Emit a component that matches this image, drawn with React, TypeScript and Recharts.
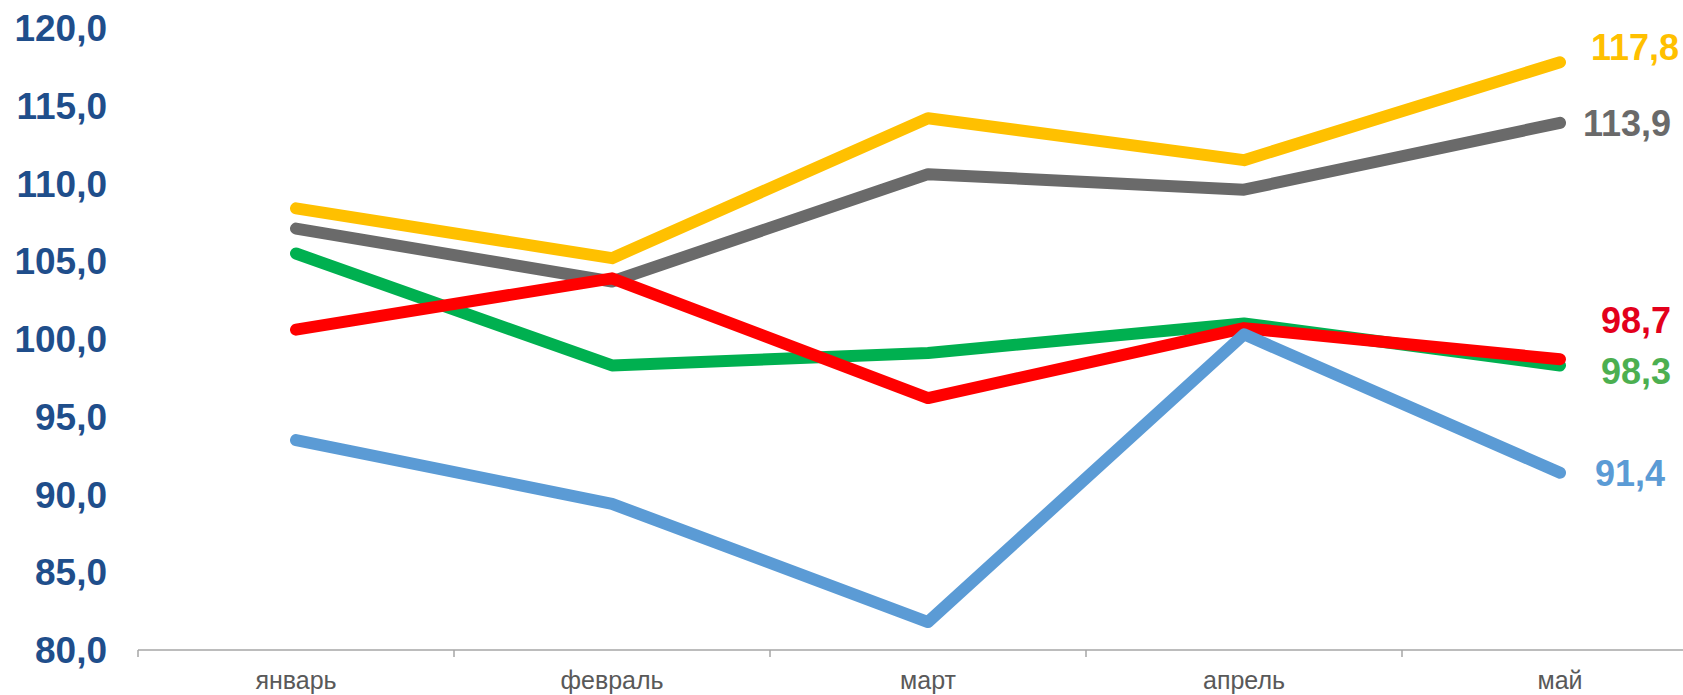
import React from "react";
import { LineChart, Line, XAxis, YAxis, LabelList } from "recharts";

const months = ["январь", "февраль", "март", "апрель", "май"];
const yellowValues = [108.4, 105.2, 114.2, 111.5, 117.8];
const grayValues = [107.1, 103.7, 110.6, 109.6, 113.9];
const greenValues = [105.5, 98.3, 99.1, 101.0, 98.3];
const redValues = [100.6, 103.9, 96.2, 100.7, 98.7];
const blueValues = [93.5, 89.4, 81.8, 100.3, 91.4];
const yTicks = [80, 85, 90, 95, 100, 105, 110, 115, 120];

const data = months.map((m, i) => ({
  month: m,
  yellow: yellowValues[i],
  gray: grayValues[i],
  green: greenValues[i],
  red: redValues[i],
  blue: blueValues[i],
}));

const FONT = '"Liberation Sans", Arial, sans-serif';
const BAND = 316;
const fmt = (v: number) => v.toFixed(1).replace(".", ",");

const XTick = (props: any) => {
  const { x, y, payload } = props;
  return (
    <g>
      <line x1={x - BAND / 2} x2={x - BAND / 2} y1={y} y2={y + 7} stroke="#A6A6A6" strokeWidth={1.5} />
      <text x={x} y={y + 39} textAnchor="middle" fill="#595959" fontSize={25} fontFamily={FONT}>
        {payload.value}
      </text>
    </g>
  );
};

const makeEndLabel = (color: string, dx: number, dy: number) => (props: any) => {
  const { x, y, index, value } = props;
  if (index !== months.length - 1) return null;
  return (
    <text x={x + dx} y={y + dy + 13} fill={color} fontSize={36} fontWeight="bold" fontFamily={FONT}>
      {fmt(value)}
    </text>
  );
};

export default function App() {
  const lineProps = {
    type: "linear" as const,
    strokeWidth: 12,
    strokeLinecap: "round" as const,
    strokeLinejoin: "round" as const,
    dot: false,
    activeDot: false,
    isAnimationActive: false,
  };
  return (
    <div style={{ position: "absolute", left: 0, top: 0, width: 1683, height: 695, overflow: "hidden", background: "#fff" }}>
      <LineChart width={1720} height={695} data={data} margin={{ top: 28, right: 2, left: 0, bottom: 0 }}>
        <XAxis
          dataKey="month"
          height={45}
          tickSize={0}
          tickMargin={0}
          tick={<XTick />}
          axisLine={{ stroke: "#A6A6A6", strokeWidth: 1.5 }}
          interval={0}
          padding={{ left: BAND / 2, right: BAND / 2 }}
        />
        <YAxis
          width={138}
          domain={[80, 120]}
          ticks={yTicks}
          tickFormatter={fmt}
          axisLine={false}
          tickLine={false}
          tickSize={0}
          tickMargin={31}
          tick={{ fill: "#1F4E8B", fontSize: 37, fontWeight: "bold", fontFamily: FONT }}
        />
        <Line dataKey="gray" stroke="#6A6A6A" {...lineProps}>
          <LabelList dataKey="gray" content={makeEndLabel("#6A6A6A", 23, 0)} />
        </Line>
        <Line dataKey="yellow" stroke="#FFC000" {...lineProps}>
          <LabelList dataKey="yellow" content={makeEndLabel("#FFC000", 31, -15)} />
        </Line>
        <Line dataKey="green" stroke="#00B050" {...lineProps}>
          <LabelList dataKey="green" content={makeEndLabel("#4CAF50", 41, 6)} />
        </Line>
        <Line dataKey="red" stroke="#FF0000" {...lineProps}>
          <LabelList dataKey="red" content={makeEndLabel("#E3001B", 41, -39)} />
        </Line>
        <Line dataKey="blue" stroke="#5B9BD5" {...lineProps}>
          <LabelList dataKey="blue" content={makeEndLabel("#5B9BD5", 35, 0)} />
        </Line>
      </LineChart>
    </div>
  );
}
